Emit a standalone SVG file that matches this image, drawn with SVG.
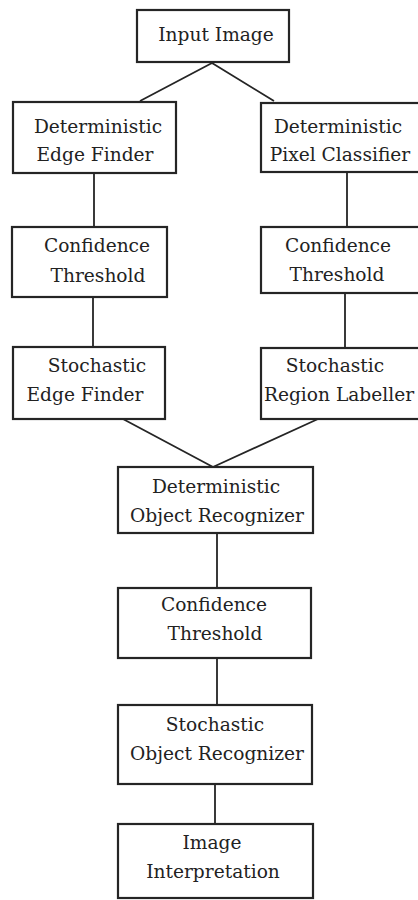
<svg xmlns="http://www.w3.org/2000/svg" width="418" height="900" viewBox="0 0 418 900">
<style>
.box{fill:#fff;stroke:#252525;stroke-width:2.2}
.lbl{font-family:"DejaVu Serif",serif;font-size:18.6px;fill:#222;text-anchor:middle}
.ln{stroke:#252525;stroke-width:1.8;fill:none}
</style>
<rect width="418" height="900" fill="#fff"/>
<g id="connectors">
<path class="ln" d="M212,63 L140,101 M212,63 L274,101"/>
<path class="ln" d="M94,173 V227 M93,297 V347"/>
<path class="ln" d="M347,172 V227 M345,293 V348"/>
<path class="ln" d="M123,419 L213,467 M318,419 L213,467"/>
<path class="ln" d="M217,533 V588 M217,658 V705 M215,784 V824"/>
</g>
<g id="input-image">
<rect class="box" x="137" y="10" width="152" height="52"/>
<text class="lbl" x="216" y="41">Input Image</text>
</g>
<g id="det-edge-finder">
<rect class="box" x="13" y="102" width="163" height="71"/>
<text class="lbl" x="98" y="133">Deterministic</text>
<text class="lbl" x="95" y="161">Edge Finder</text>
</g>
<g id="det-pixel-classifier">
<rect class="box" x="261" y="103" width="162" height="69"/>
<text class="lbl" x="338" y="133">Deterministic</text>
<text class="lbl" x="340" y="161">Pixel Classifier</text>
</g>
<g id="conf-left">
<rect class="box" x="12" y="227" width="155" height="70"/>
<text class="lbl" x="97" y="252">Confidence</text>
<text class="lbl" x="98" y="282">Threshold</text>
</g>
<g id="conf-right">
<rect class="box" x="261" y="227" width="162" height="66"/>
<text class="lbl" x="338" y="252">Confidence</text>
<text class="lbl" x="337" y="281">Threshold</text>
</g>
<g id="stoch-edge-finder">
<rect class="box" x="13" y="347" width="152" height="72"/>
<text class="lbl" x="97" y="372">Stochastic</text>
<text class="lbl" x="85" y="401">Edge Finder</text>
</g>
<g id="stoch-region-labeller">
<rect class="box" x="261" y="348" width="162" height="71"/>
<text class="lbl" x="335" y="372">Stochastic</text>
<text class="lbl" x="339" y="401">Region Labeller</text>
</g>
<g id="det-object-recognizer">
<rect class="box" x="118" y="467" width="195" height="66"/>
<text class="lbl" x="216" y="493">Deterministic</text>
<text class="lbl" x="217" y="522">Object Recognizer</text>
</g>
<g id="conf-center">
<rect class="box" x="118" y="588" width="193" height="70"/>
<text class="lbl" x="214" y="611">Confidence</text>
<text class="lbl" x="215" y="640">Threshold</text>
</g>
<g id="stoch-object-recognizer">
<rect class="box" x="118" y="705" width="194" height="79"/>
<text class="lbl" x="215" y="731">Stochastic</text>
<text class="lbl" x="217" y="760">Object Recognizer</text>
</g>
<g id="image-interpretation">
<rect class="box" x="118" y="824" width="195" height="74"/>
<text class="lbl" x="212" y="849">Image</text>
<text class="lbl" x="213" y="878">Interpretation</text>
</g>
</svg>
